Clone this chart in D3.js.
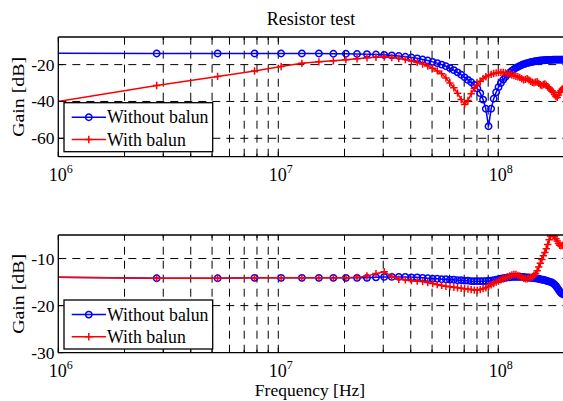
<!DOCTYPE html>
<html><head><meta charset="utf-8">
<script src="https://cdn.jsdelivr.net/npm/d3@7"></script>
<style>
body{margin:0;background:#fff;}
svg{display:block;}
text{font-family:"Liberation Serif","Times New Roman",serif;fill:#000;}
</style>
</head><body>
<svg id="c" width="563" height="401"></svg>
<script>
// Frequencies of the measured points, in MHz
const freqMHz = [0.3, 2.8, 5.3, 7.8, 10.3, 12.8, 15.3, 17.8, 20.3, 22.8, 25.3, 27.8, 30.3, 32.8, 35.3, 37.8, 40.3, 42.8, 45.3, 47.8, 50.3, 52.8, 55.3, 57.8, 60.3, 62.8, 65.3, 67.8, 70.3, 72.8, 75.3, 77.8, 80.3, 82.8, 85.3, 87.8, 90.3, 92.8, 95.3, 97.8, 100.3, 102.8, 105.3, 107.8, 110.3, 112.8, 115.3, 117.8, 120.3, 122.8, 125.3, 127.8, 130.3, 132.8, 135.3, 137.8, 140.3, 142.8, 145.3, 147.8, 150.3, 152.8, 155.3, 157.8, 160.3, 162.8, 165.3, 167.8, 170.3, 172.8, 175.3, 177.8, 180.3, 182.8, 185.3, 187.8, 190.3, 192.8, 195.3, 197.8, 200.3];

// Top panel (Resistor test)
const topWithout = [-13.6, -14.0, -14.0, -14.0, -14.0, -14.0, -14.0, -14.1, -14.1, -14.2,
  -14.3, -14.5, -14.7, -15.0, -15.3, -15.7, -16.1, -16.6, -17.2, -17.8,
  -18.5, -19.2, -20.0, -20.9, -21.9, -23.0, -24.2, -25.5, -26.9, -28.3,
  -29.6, -31.1, -33.0, -35.5, -39.0, -44.0, -53.5, -44.0, -38.5, -35.0,
  -32.2, -30.0, -28.2, -26.7, -25.4, -24.3, -23.3, -22.5, -21.8, -21.2,
  -20.7, -20.2, -19.8, -19.5, -19.2, -18.9, -18.7, -18.5, -18.3, -18.1,
  -18.0, -17.9, -17.8, -17.7, -17.6, -17.6, -17.5, -17.5, -17.4, -17.4,
  -17.4, -17.3, -17.3, -17.3, -17.3, -17.3, -17.3, -17.3, -17.3, -17.3, -17.3];
const topWith = [-50.2, -31.3, -26.4, -23.5, -21.0, -19.3, -18.5, -17.9, -17.3, -16.8,
  -16.3, -16.0, -15.9, -16.1, -16.5, -17.2, -18.0, -18.8, -19.7, -20.8,
  -22.0, -23.4, -25.0, -27.3, -30.0, -32.6, -35.5, -39.0, -41.6, -39.5,
  -35.8, -33.0, -31.0, -29.0, -27.6, -26.6, -25.8, -25.3, -24.8, -24.5,
  -24.3, -24.2, -24.3, -24.5, -24.8, -25.2, -25.6, -25.9, -26.3, -26.6,
  -26.9, -27.6, -28.3, -28.0, -27.6, -28.3, -29.0, -29.6, -29.9, -29.5,
  -29.3, -30.2, -31.0, -31.3, -30.8, -30.5, -31.2, -32.0, -32.8, -33.5,
  -34.2, -35.0, -36.2, -37.3, -37.8, -36.5, -35.0, -34.0, -33.3, -32.7, -32.2];

// Bottom panel
const bottomWithout = [-13.7, -14.2, -14.2, -14.1, -14.1, -14.1, -14.1, -14.1, -14.1, -14.1,
  -14.1, -14.0, -13.9, -13.9, -13.9, -13.9, -14.0, -14.0, -14.1, -14.2,
  -14.3, -14.3, -14.4, -14.4, -14.5, -14.5, -14.6, -14.6, -14.7, -14.7,
  -14.8, -14.8, -14.8, -14.8, -14.8, -14.8, -14.7, -14.7, -14.6, -14.5,
  -14.4, -14.3, -14.2, -14.1, -14.0, -14.0, -13.9, -13.9, -13.9, -13.9,
  -13.9, -13.9, -13.9, -14.0, -14.0, -14.0, -14.1, -14.1, -14.2, -14.2,
  -14.3, -14.3, -14.4, -14.5, -14.5, -14.6, -14.7, -14.8, -14.9, -15.0,
  -15.1, -15.3, -15.5, -15.8, -16.2, -16.6, -17.0, -17.3, -17.5, -17.6, -17.7];
const bottomWith = [-13.7, -14.2, -14.2, -14.1, -14.1, -14.1, -14.1, -14.1, -14.1, -14.0,
  -13.7, -13.2, -12.8, -13.8, -14.4, -14.5, -14.7, -14.8, -14.9, -15.1,
  -15.3, -15.5, -15.7, -15.9, -16.0, -16.1, -16.2, -16.3, -16.4, -16.5,
  -16.6, -16.7, -16.7, -16.6, -16.4, -16.2, -15.9, -15.6, -15.3, -15.0,
  -14.8, -14.5, -14.3, -14.1, -13.9, -13.7, -13.5, -13.4, -13.4, -13.6,
  -13.7, -14.0, -14.2, -14.3, -14.3, -14.2, -14.0, -13.9, -13.6, -13.2,
  -12.6, -11.8, -11.0, -10.2, -9.4, -8.7, -7.9, -7.0, -6.0, -5.2,
  -4.7, -4.9, -5.3, -5.8, -6.3, -6.8, -7.2, -7.3, -7.2, -7.0, -6.9];

const seriesNames = ["Without balun", "With balun"];
const seriesColors = ["#0000ff", "#ff0000"];
const titleText = "Resistor test";
const xLabelText = "Frequency [Hz]";
const yLabelText = "Gain [dB]";
const xTickExponents = [6, 7, 8];
const yTicksTop = [-20, -40, -60];
const yTicksBottom = [-10, -20, -30];

const svg = d3.select("#c");
const x = d3.scaleLog().domain([1e6, 2e8]).range([58.3, 564.5]);
const xL = 58.3, xR = 564.5;
const FS = 17.5;
const LW = 1.5;

// minor grid positions
const gridX = [];
[1e6, 1e7, 1e8].forEach(d => { for (let k = 1; k <= 9; k++) { const v = k * d; if (v > 1e6 && v < 2e8) gridX.push(v); } });
const minorX = gridX.filter(v => ![1e7, 1e8].includes(v));

const panels = [
  {top: 37, bottom: 156.7, domain: [-70, -5], ticks: yTicksTop, s: [topWithout, topWith], legendTop: 102.7, id: "a"},
  {top: 235, bottom: 352.7, domain: [-30, -5], ticks: yTicksBottom, s: [bottomWithout, bottomWith], legendTop: 300, id: "b"}
];

function marker(g, type, color) {
  if (type === 0) {
    g.append("circle").attr("r", 3.2).attr("fill", "none").attr("stroke", color).attr("stroke-width", LW);
  } else {
    g.append("path").attr("d", "M-3.7,0H3.7M0,-3.7V3.7").attr("stroke", color).attr("stroke-width", LW).attr("fill", "none");
  }
}

panels.forEach((p, pi) => {
  const y = d3.scaleLinear().domain(p.domain).range([p.bottom, p.top]);
  const g = svg.append("g");
  svg.append("clipPath").attr("id", "clip" + p.id).append("rect")
    .attr("x", xL).attr("y", p.top).attr("width", xR - xL).attr("height", p.bottom - p.top);

  // grid
  const grid = g.append("g").attr("stroke", "#000").attr("stroke-width", 1).attr("stroke-dasharray", "8,6").attr("fill", "none");
  gridX.forEach(v => grid.append("line").attr("x1", x(v)).attr("x2", x(v)).attr("y1", p.bottom).attr("y2", p.top));
  p.ticks.filter(t => y(t) > p.top + 1 && y(t) < p.bottom - 1).forEach(t =>
    grid.append("line").attr("x1", xL).attr("x2", xR).attr("y1", y(t)).attr("y2", y(t)));

  // data
  const dg = g.append("g").attr("clip-path", "url(#clip" + p.id + ")");
  p.s.forEach((vals, si) => {
    const pts = freqMHz.map((f, i) => [f * 1e6, vals[i]]);
    dg.append("path").datum(pts)
      .attr("d", d3.line().x(d => x(d[0])).y(d => y(d[1])))
      .attr("fill", "none").attr("stroke", seriesColors[si]).attr("stroke-width", LW);
    pts.forEach(d => {
      const mg = dg.append("g").attr("transform", `translate(${x(d[0])},${y(d[1])})`);
      marker(mg, si, seriesColors[si]);
    });
  });

  // box
  const bx = g.append("g").attr("stroke", "#000").attr("stroke-width", 1.3);
  bx.append("line").attr("x1", xL).attr("x2", xR).attr("y1", p.top).attr("y2", p.top);
  bx.append("line").attr("x1", xL).attr("x2", xR).attr("y1", p.bottom).attr("y2", p.bottom);
  bx.append("line").attr("x1", xL).attr("x2", xL).attr("y1", p.top).attr("y2", p.bottom);

  // ticks
  const tk = g.append("g").attr("stroke", "#000").attr("stroke-width", 1);
  xTickExponents.forEach(e => {
    const xv = x(Math.pow(10, e));
    tk.append("line").attr("x1", xv).attr("x2", xv).attr("y1", p.bottom).attr("y2", p.bottom - 5);
    tk.append("line").attr("x1", xv).attr("x2", xv).attr("y1", p.top).attr("y2", p.top + 5);
  });
  minorX.forEach(v => {
    tk.append("line").attr("x1", x(v)).attr("x2", x(v)).attr("y1", p.bottom).attr("y2", p.bottom - 3);
    tk.append("line").attr("x1", x(v)).attr("x2", x(v)).attr("y1", p.top).attr("y2", p.top + 3);
  });
  p.ticks.forEach(t => tk.append("line").attr("x1", xL).attr("x2", xL + 5).attr("y1", y(t)).attr("y2", y(t)));

  // tick labels
  p.ticks.forEach(t => g.append("text").attr("x", 54.5).attr("y", y(t) + 6).attr("text-anchor", "end")
    .attr("font-size", FS).text(String(t)));
  xTickExponents.forEach(e => {
    const xv = x(Math.pow(10, e));
    const t = g.append("text").attr("x", xv - 9.5).attr("y", p.bottom + 24.5).attr("font-size", 18);
    t.append("tspan").text("10");
    t.append("tspan").attr("font-size", 12).attr("dy", -8).text(String(e));
  });

  // y label
  const cy = (p.top + p.bottom) / 2;
  g.append("text").attr("transform", `translate(24,${cy}) rotate(-90)`).attr("text-anchor", "middle")
    .attr("font-size", FS).attr("textLength", 80).attr("lengthAdjust", "spacingAndGlyphs").text(yLabelText);

  // legend
  const lg = g.append("g");
  lg.append("rect").attr("x", 64).attr("y", p.legendTop).attr("width", 148.7).attr("height", 49)
    .attr("fill", "#fff").attr("stroke", "#000").attr("stroke-width", 1.3);
  seriesNames.forEach((name, si) => {
    const ry = p.legendTop + 14.6 + si * 22.2;
    lg.append("line").attr("x1", 71.7).attr("x2", 106).attr("y1", ry).attr("y2", ry)
      .attr("stroke", seriesColors[si]).attr("stroke-width", LW);
    marker(lg.append("g").attr("transform", `translate(88.8,${ry})`), si, seriesColors[si]);
    lg.append("text").attr("x", 107).attr("y", ry + 6).attr("font-size", 17.8).text(name);
  });
});

svg.append("text").attr("x", 311).attr("y", 25).attr("text-anchor", "middle").attr("font-size", 18).text(titleText);
svg.append("text").attr("x", 310).attr("y", 396).attr("text-anchor", "middle").attr("font-size", FS).text(xLabelText);
</script>
</body></html>
